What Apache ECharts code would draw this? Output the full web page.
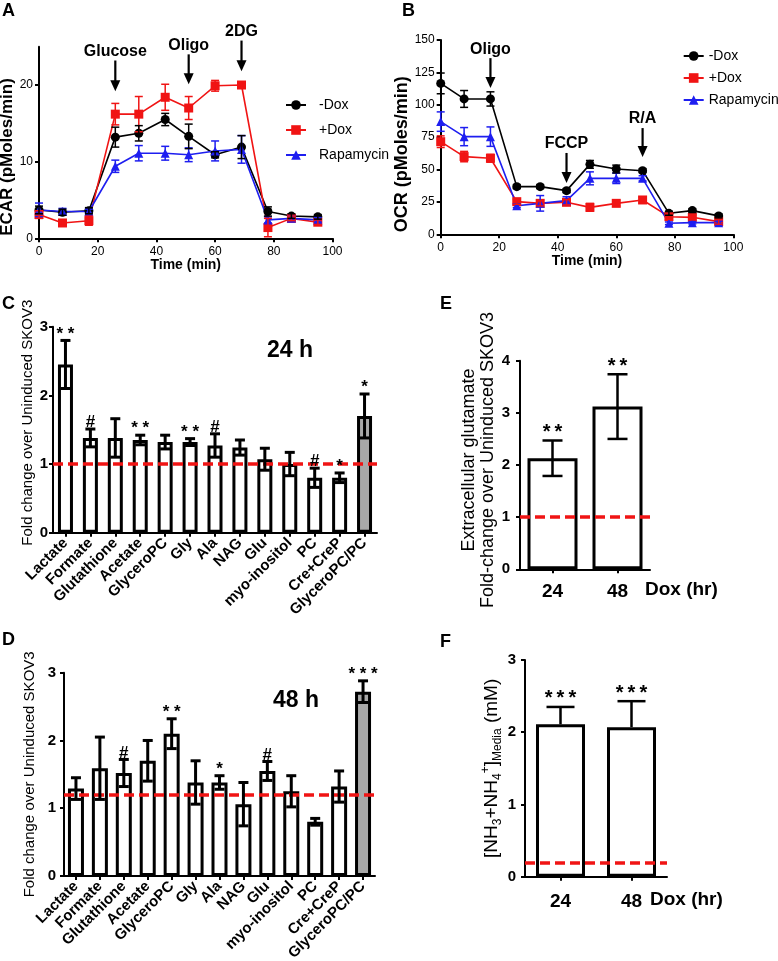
<!DOCTYPE html>
<html><head><meta charset="utf-8">
<script src="https://cdn.jsdelivr.net/npm/echarts@6/dist/echarts.min.js"></script>
<style>html,body{margin:0;padding:0;background:#fff}#c{width:778px;height:961px}</style>
</head><body><div id="c"></div>
<script>
// ---------- DATA ----------
const timeMin = [0, 8, 17, 26, 34, 43, 51, 60, 69, 78, 86, 95];
const ecarMinusDox    = [3.7, 3.4, 3.6, 13.2, 13.7, 15.5, 13.3, 10.9, 11.9, 3.5, 2.9, 2.8];
const ecarMinusDoxErr = [0.5, 0.4, 0.4, 1.3, 1.0, 0.8, 1.6, 0.4, 1.5, 0.6, 0.3, 0.3];
const ecarPlusDox     = [3.1, 2.0, 2.3, 16.2, 16.2, 18.4, 17.0, 19.9, 20.0, 1.4, 2.6, 2.1];
const ecarPlusDoxErr  = [0.5, 0.3, 0.6, 1.4, 2.3, 1.7, 1.5, 0.7, 0.3, 1.2, 0.3, 0.3];
const ecarRapa        = [3.7, 3.5, 3.5, 9.4, 11.1, 11.1, 10.9, 11.4, 11.6, 2.4, 2.6, 2.4];
const ecarRapaErr     = [0.9, 0.4, 0.3, 0.8, 1.0, 0.9, 0.9, 1.3, 1.8, 0.4, 0.3, 0.3];

const ocrMinusDox    = [116.5, 104.5, 104.5, 36.8, 36.8, 33.7, 54.0, 50.4, 49.1, 16.2, 18.3, 14.2];
const ocrMinusDoxErr = [8, 6.5, 5.5, 1.5, 1.5, 1.5, 3, 3, 1.5, 1.5, 1.5, 1.5];
const ocrPlusDox     = [71.5, 60, 58.7, 25.2, 23.9, 24.7, 20.8, 23.9, 26.5, 13.6, 13.1, 9.8];
const ocrPlusDoxErr  = [4.5, 4, 3, 2, 2, 2, 3, 2, 2, 2, 2, 2];
const ocrRapa        = [87, 75.4, 75.4, 22.1, 23.9, 26, 43.2, 43.2, 43.2, 8.5, 9, 9];
const ocrRapaErr     = [7.5, 7, 7.5, 1.5, 6, 3, 5, 4, 2, 1, 1, 1];

const metabolites = ['Lactate','Formate','Glutathione','Acetate','GlyceroPC','Gly','Ala','NAG','Glu','myo-inositol','PC','Cre+CreP','GlyceroPC/PC'];
const fold24    = [2.45, 1.38, 1.38, 1.35, 1.32, 1.32, 1.27, 1.24, 1.07, 1.00, 0.80, 0.80, 1.70];
const fold24Err = [0.35, 0.13, 0.28, 0.07, 0.10, 0.05, 0.17, 0.11, 0.16, 0.17, 0.14, 0.07, 0.32];
const sig24     = ['**','#','','**','','**','#','','','','#','*','*'];
const fold48    = [1.29, 1.59, 1.52, 1.70, 2.10, 1.38, 1.38, 1.06, 1.55, 1.25, 0.80, 1.32, 2.72];
const fold48Err = [0.16, 0.46, 0.20, 0.30, 0.22, 0.32, 0.10, 0.32, 0.14, 0.23, 0.05, 0.23, 0.16];
const sig48     = ['','','#','','**','','*','','#','','','','***'];

const doxHours = ['24', '48'];
const glutamate    = [2.13, 3.12];
const glutamateErr = [0.34, 0.62];
const sigGlu       = ['**', '**'];
const ammonia      = [2.11, 2.07];
const ammoniaErr   = [0.24, 0.36];
const sigAmm       = ['***', '***'];

const baseline24 = 1.0, baseline48 = 1.2, baselineGlu = 1.0, baselineAmm = 0.2;

// ---------- STYLE HELPERS ----------
const FONT = '"Liberation Sans", Arial, Helvetica, sans-serif';
const RED = '#f01414', BLUE = '#1e1ef0', BLACK = '#000000', GRAY = '#a8a8a8';

function errSeries(xi, data, color, capW, lw, marks, markFont, markSep, onlyUp) {
  return {
    type: 'custom', xAxisIndex: xi, yAxisIndex: xi, silent: true, z: 10, clip: false,
    encode: { x: 0, y: 1 },
    data: data,
    renderItem: function (params, api) {
      const x = api.value(0), y = api.value(1), e = api.value(2);
      const t = api.coord([x, y + e]);
      const b = api.coord([x, onlyUp ? y : y - e]);
      const st = { stroke: color, lineWidth: lw };
      const ch = [
        { type: 'line', shape: { x1: t[0], y1: t[1], x2: b[0], y2: b[1] }, style: st },
        { type: 'line', shape: { x1: t[0] - capW / 2, y1: t[1], x2: t[0] + capW / 2, y2: t[1] }, style: st }
      ];
      if (!onlyUp) ch.push({ type: 'line', shape: { x1: b[0] - capW / 2, y1: b[1], x2: b[0] + capW / 2, y2: b[1] }, style: st });
      const m = marks && marks[params.dataIndex];
      if (m) ch.push({ type: 'text', style: { text: m.split('').join(markSep || ''), x: t[0], y: t[1] + 2, align: 'center', verticalAlign: 'bottom', font: markFont, fill: BLACK } });
      return { type: 'group', children: ch };
    }
  };
}

// arrow annotations: [x, yStart, yTip] in data units, label by index
function arrowSeries(xi, pts, labels) {
  return {
    type: 'custom', xAxisIndex: xi, yAxisIndex: xi, silent: true, z: 20, clip: false,
    encode: { x: 0, y: 1 },
    data: pts,
    renderItem: function (params, api) {
      const p1 = api.coord([api.value(0), api.value(1)]);
      const p2 = api.coord([api.value(0), api.value(2)]);
      const head = 11, hw = 5;
      return { type: 'group', children: [
        { type: 'line', shape: { x1: p1[0], y1: p1[1], x2: p2[0], y2: p2[1] - head + 1 }, style: { stroke: BLACK, lineWidth: 2.2 } },
        { type: 'polygon', shape: { points: [[p2[0] - hw, p2[1] - head], [p2[0] + hw, p2[1] - head], [p2[0], p2[1]]] }, style: { fill: BLACK } },
        { type: 'text', style: { text: labels[params.dataIndex], x: p1[0], y: p1[1] - 1, align: 'center', verticalAlign: 'bottom', font: 'bold 16px ' + FONT, fill: BLACK } }
      ] };
    }
  };
}

function lineSeries(xi, name, xs, ys, color, symbol) {
  return {
    type: 'line', name: name, xAxisIndex: xi, yAxisIndex: xi, clip: false,
    data: xs.map((t, i) => [t, ys[i]]),
    symbol: symbol, symbolSize: 9, color: color,
    lineStyle: { width: 1.6, color: color }, itemStyle: { color: color },
    z: 5
  };
}

function baseLine(v) {
  return {
    silent: true, symbol: ['none', 'none'], z: 8,
    lineStyle: { color: RED, width: 3.5, type: [10, 5] },
    label: { show: false },
    data: [{ yAxis: v }]
  };
}

function barSeries(xi, vals, barW, grayIdx, base) {
  return {
    type: 'bar', xAxisIndex: xi, yAxisIndex: xi, barWidth: barW,
    data: vals.map((v, i) => ({ value: v, itemStyle: { color: i === grayIdx ? GRAY : '#ffffff' } })),
    itemStyle: { borderColor: BLACK, borderWidth: 3 },
    markLine: baseLine(base), z: 2
  };
}

const axLine = { show: true, onZero: false, lineStyle: { color: BLACK, width: 2 } };
const axTick = { show: true, length: 4, lineStyle: { color: BLACK, width: 2 } };

function valueX(gi) {
  return {
    type: 'value', gridIndex: gi, min: 0, max: 100, interval: 20,
    axisLine: axLine, axisTick: axTick, splitLine: { show: false },
    axisLabel: { color: BLACK, fontFamily: FONT, fontSize: 12, margin: 7 },
    name: 'Time (min)', nameLocation: 'middle', nameGap: 16,
    nameTextStyle: { color: BLACK, fontFamily: FONT, fontWeight: 'bold', fontSize: 14 }
  };
}
function catX(gi, cats, labelOpt) {
  return {
    type: 'category', gridIndex: gi, data: cats,
    axisLine: axLine, axisTick: Object.assign({ alignWithLabel: true }, axTick), splitLine: { show: false },
    axisLabel: Object.assign({ color: BLACK, fontFamily: FONT, fontWeight: 'bold', interval: 0 }, labelOpt)
  };
}
function valY(gi, min, max, interval, labelOpt, name, nameGap, nameStyle, custom) {
  const ax = {
    type: 'value', gridIndex: gi, min: min, max: max, interval: interval,
    axisLine: axLine, axisTick: Object.assign({}, axTick), splitLine: { show: false },
    axisLabel: Object.assign({ color: BLACK, fontFamily: FONT }, labelOpt),
    name: name, nameLocation: 'middle', nameGap: nameGap,
    nameTextStyle: Object.assign({ color: BLACK, fontFamily: FONT }, nameStyle)
  };
  if (custom) { ax.axisLabel.customValues = custom; ax.axisTick.customValues = custom; }
  return ax;
}

const chart = echarts.init(document.getElementById('c'));

const option = {
  animation: false,
  backgroundColor: '#ffffff',
  textStyle: { fontFamily: FONT },
  grid: [
    { left: 39, top: 46.7, width: 293.5, height: 191.6, outerBoundsMode: 'none' },
    { left: 440.7, top: 40, width: 292.6, height: 194.3, outerBoundsMode: 'none' },
    { left: 53, top: 326.7, width: 324, height: 206, outerBoundsMode: 'none' },
    { left: 64, top: 672.7, width: 311, height: 203.3, outerBoundsMode: 'none' },
    { left: 520, top: 360.7, width: 130, height: 208.6, outerBoundsMode: 'none' },
    { left: 525, top: 660, width: 142, height: 216.7, outerBoundsMode: 'none' }
  ],
  legend: [
    { data: ['-Dox', '+Dox', 'Rapamycin'], orient: 'vertical', left: 280, top: 93, itemWidth: 20, itemHeight: 12, itemGap: 11,
      textStyle: { fontFamily: FONT, fontSize: 14, color: BLACK, padding: [0, 0, 0, 8] }, selectedMode: false },
    { data: ['-Dox', '+Dox', 'Rapamycin'], orient: 'vertical', left: 677.7, top: 44, itemWidth: 20, itemHeight: 12, itemGap: 8,
      textStyle: { fontFamily: FONT, fontSize: 14, color: BLACK }, selectedMode: false }
  ],
  xAxis: [
    valueX(0), valueX(1),
    catX(2, metabolites, { rotate: 45, fontSize: 15, margin: 8 }),
    catX(3, metabolites, { rotate: 45, fontSize: 15, margin: 8 }),
    catX(4, doxHours, { fontSize: 19, margin: 13 }),
    catX(5, doxHours, { fontSize: 19, margin: 16 })
  ],
  yAxis: [
    valY(0, 0, 25, 10, { fontSize: 12, margin: 6 }, 'ECAR (pMoles/min)', 21, { fontWeight: 'bold', fontSize: 17, padding: [0, 29, 0, 0] }, [0, 10, 20]),
    valY(1, 0, 150, 25, { fontSize: 12, margin: 6 }, 'OCR (pMoles/min)', 29, { fontWeight: 'bold', fontSize: 18, padding: [0, 34, 0, 0] }),
    valY(2, 0, 3, 1, { fontSize: 15, fontWeight: 'bold', margin: 5 }, 'Fold change over Uninduced SKOV3', 16, { fontSize: 15, padding: [0, 0, 0, 14] }),
    valY(3, 0, 3, 1, { fontSize: 15, fontWeight: 'bold', margin: 8 }, 'Fold change over Uninduced SKOV3', 27, { fontSize: 15 }),
    valY(4, 0, 4, 1, { fontSize: 15, fontWeight: 'bold', margin: 10 }, 'Extracellular glutamate\nFold-change over Uninduced SKOV3', 17, { fontSize: 18, lineHeight: 19, padding: [0, 0, 0, 10] }),
    valY(5, 0, 3, 1, { fontSize: 15, fontWeight: 'bold', margin: 9 }, '[NH{s|3}+NH{s|4}{p|+}]{s|Media} (mM)', 21,
      { fontSize: 19, lineHeight: 24, rich: {
        s: { fontSize: 12, fontFamily: FONT, color: BLACK, verticalAlign: 'bottom', lineHeight: 24 },
        p: { fontSize: 12, fontFamily: FONT, color: BLACK, verticalAlign: 'top', lineHeight: 24 } } })
  ],
  series: [
    // Panel A
    errSeries(0, timeMin.map((t, i) => [t, ecarRapa[i], ecarRapaErr[i]]), BLUE, 8, 1.5),
    errSeries(0, timeMin.map((t, i) => [t, ecarPlusDox[i], ecarPlusDoxErr[i]]), RED, 8, 1.5),
    errSeries(0, timeMin.map((t, i) => [t, ecarMinusDox[i], ecarMinusDoxErr[i]]), BLACK, 8, 1.5),
    lineSeries(0, '-Dox', timeMin, ecarMinusDox, BLACK, 'circle'),
    lineSeries(0, '+Dox', timeMin, ecarPlusDox, RED, 'rect'),
    lineSeries(0, 'Rapamycin', timeMin, ecarRapa, BLUE, 'triangle'),
    arrowSeries(0, [[26, 23.2, 19.2], [51, 24.0, 20.1], [69, 25.8, 21.8]], ['Glucose', 'Oligo', '2DG']),
    // Panel B
    errSeries(1, timeMin.map((t, i) => [t, ocrRapa[i], ocrRapaErr[i]]), BLUE, 8, 1.5),
    errSeries(1, timeMin.map((t, i) => [t, ocrPlusDox[i], ocrPlusDoxErr[i]]), RED, 8, 1.5),
    errSeries(1, timeMin.map((t, i) => [t, ocrMinusDox[i], ocrMinusDoxErr[i]]), BLACK, 8, 1.5),
    lineSeries(1, '-Dox', timeMin, ocrMinusDox, BLACK, 'circle'),
    lineSeries(1, '+Dox', timeMin, ocrPlusDox, RED, 'rect'),
    lineSeries(1, 'Rapamycin', timeMin, ocrRapa, BLUE, 'triangle'),
    arrowSeries(1, [[17, 136, 113], [43, 62.8, 39.6], [69, 82, 59.7]], ['Oligo', 'FCCP', 'R/A']),
    // Panel C
    barSeries(2, fold24, 15, 12, baseline24),
    errSeries(2, fold24.map((v, i) => [i, v, fold24Err[i]]), BLACK, 10, 3, sig24, 'bold 17px ' + FONT, ' '),
    // Panel D
    barSeries(3, fold48, 16, 12, baseline48),
    errSeries(3, fold48.map((v, i) => [i, v, fold48Err[i]]), BLACK, 10, 3, sig48, 'bold 17px ' + FONT, ' '),
    // Panel E
    barSeries(4, glutamate, 50, -1, baselineGlu),
    errSeries(4, glutamate.map((v, i) => [i, v, glutamateErr[i]]), BLACK, 20, 2.5, sigGlu, 'bold 20px ' + FONT, '\u2009'),
    // Panel F
    barSeries(5, ammonia, 49, -1, baselineAmm),
    errSeries(5, ammonia.map((v, i) => [i, v, ammoniaErr[i]]), BLACK, 28, 2.5, sigAmm, 'bold 20px ' + FONT, '\u2009', true)
  ],
  graphic: [
    { type: 'text', left: 2, top: 2, style: { text: 'A', font: 'bold 18px ' + FONT, fill: BLACK } },
    { type: 'text', left: 402, top: 2, style: { text: 'B', font: 'bold 18px ' + FONT, fill: BLACK } },
    { type: 'text', left: 2, top: 295, style: { text: 'C', font: 'bold 18px ' + FONT, fill: BLACK } },
    { type: 'text', left: 2, top: 631, style: { text: 'D', font: 'bold 18px ' + FONT, fill: BLACK } },
    { type: 'text', left: 440, top: 295, style: { text: 'E', font: 'bold 18px ' + FONT, fill: BLACK } },
    { type: 'text', left: 440, top: 633, style: { text: 'F', font: 'bold 18px ' + FONT, fill: BLACK } },
    { type: 'text', left: 267, top: 339, style: { text: '24 h', font: 'bold 23px ' + FONT, fill: BLACK } },
    { type: 'text', left: 273, top: 689, style: { text: '48 h', font: 'bold 23px ' + FONT, fill: BLACK } },
    { type: 'text', left: 645, top: 580, style: { text: 'Dox (hr)', font: 'bold 19px ' + FONT, fill: BLACK } },
    { type: 'text', left: 650, top: 890, style: { text: 'Dox (hr)', font: 'bold 19px ' + FONT, fill: BLACK } }
  ]
};
chart.setOption(option);
</script>
</body></html>
